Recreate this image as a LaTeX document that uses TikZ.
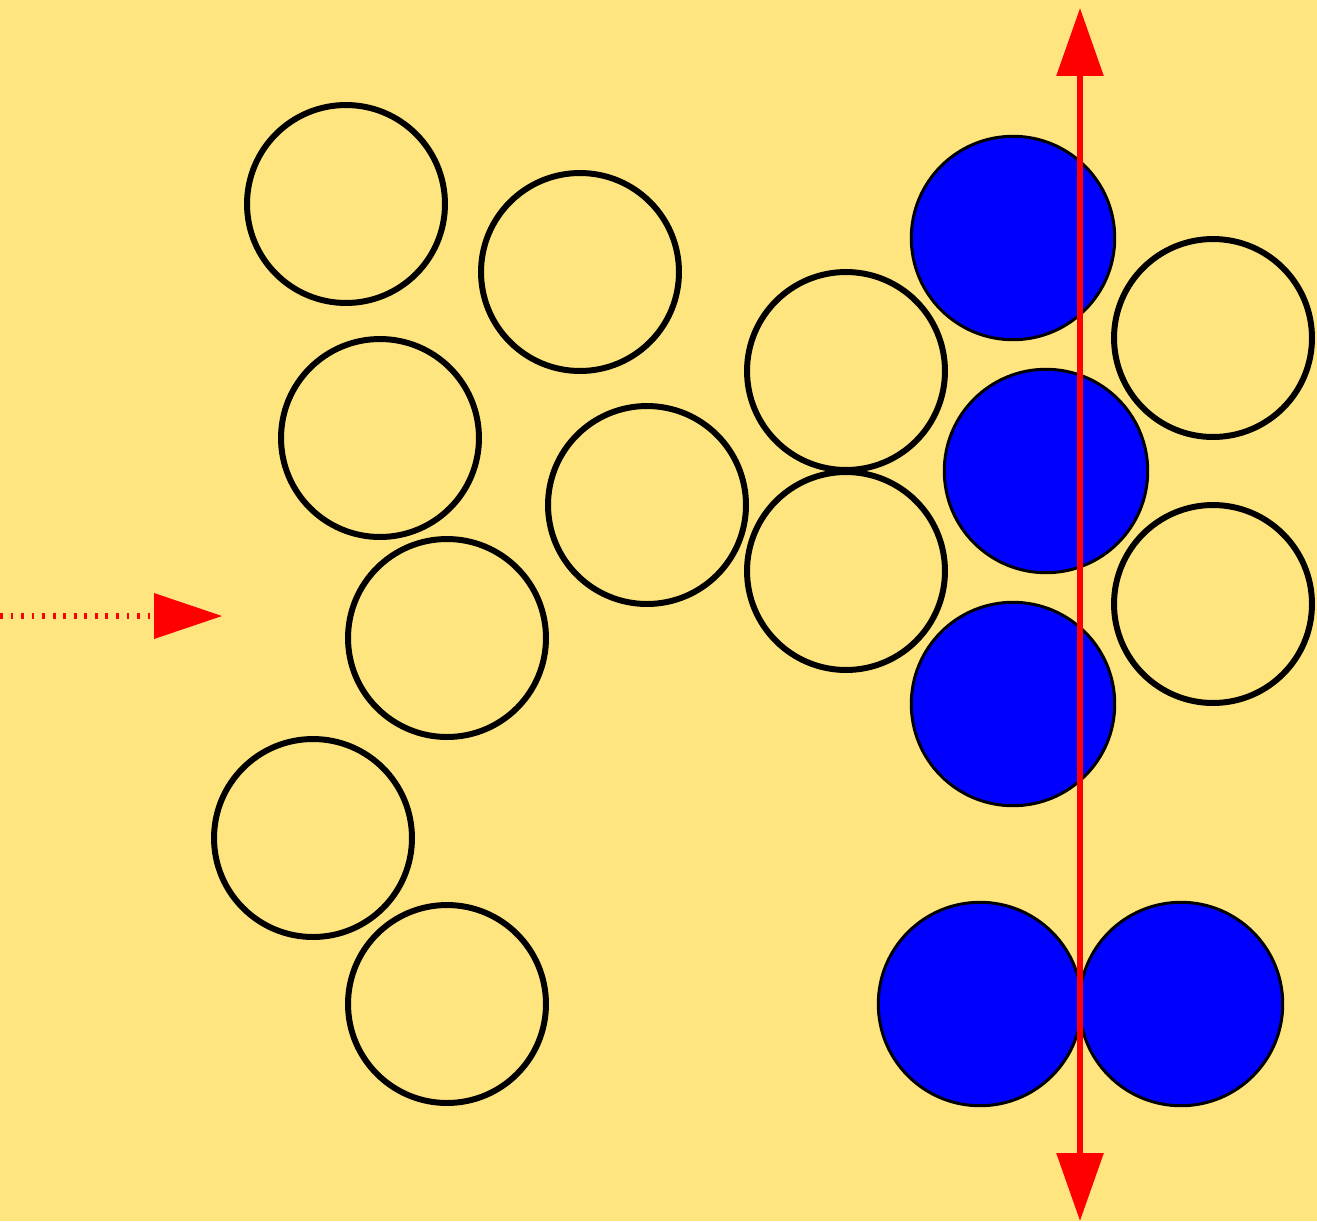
\documentclass[tikz,border=0pt]{standalone}
\usepackage{tikz}
\usetikzlibrary{arrows.meta}
\definecolor{bgyellow}{HTML}{FFE580}
\definecolor{ballblue}{HTML}{0000FF}
\definecolor{rayred}{HTML}{FF0000}

\begin{document}
\begin{tikzpicture}[
    x=0.02cm, y=-0.02cm,
    ball/.style={circle, draw=black, line width=3.4pt, minimum size=3.96cm, inner sep=0pt},
    hit/.style={circle, draw=black, fill=ballblue, line width=1.7pt, minimum size=4.07cm, inner sep=0pt},
    tip/.style={-{Triangle[length=1.36cm, width=0.92cm]}},
    ray/.style={rayred, line width=3.4pt},
    inray/.style={rayred, line width=3.2pt, dash pattern=on 1.6pt off 4.4pt}
]
% Background
\fill[bgyellow] (0,0) rectangle (1317,1221);
\useasboundingbox (0,0) rectangle (1317,1221);

% Open balls
\foreach \n/\x/\y in {1/346/204, 2/580/272, 3/380/438, 4/647/505, 5/447/638,
                      6/313/838, 7/447/1004, 8/846/371, 9/846/571,
                      10/1213/338, 11/1213/604}
  \node[ball] (b\n) at (\x,\y) {};

% Blue balls hit by the line
\foreach \n/\x/\y in {1/1013/238, 2/1046/471, 3/1013/704, 4/980/1004, 5/1181/1004}
  \node[hit] (h\n) at (\x,\y) {};

% Incoming ray
\coordinate (src) at (0,616);
\coordinate (aim) at (222,616);
\draw[inray] (src) -- (154,616);
\draw[rayred, tip, line width=0pt] (154,616) -- (aim);

% Vertical line
\coordinate (top) at (1080,8);
\coordinate (bot) at (1080,1221);
\draw[ray, {Triangle[length=1.36cm, width=0.92cm]}-{Triangle[length=1.36cm, width=0.92cm]}] (bot) -- (top);

\end{tikzpicture}
\end{document}
